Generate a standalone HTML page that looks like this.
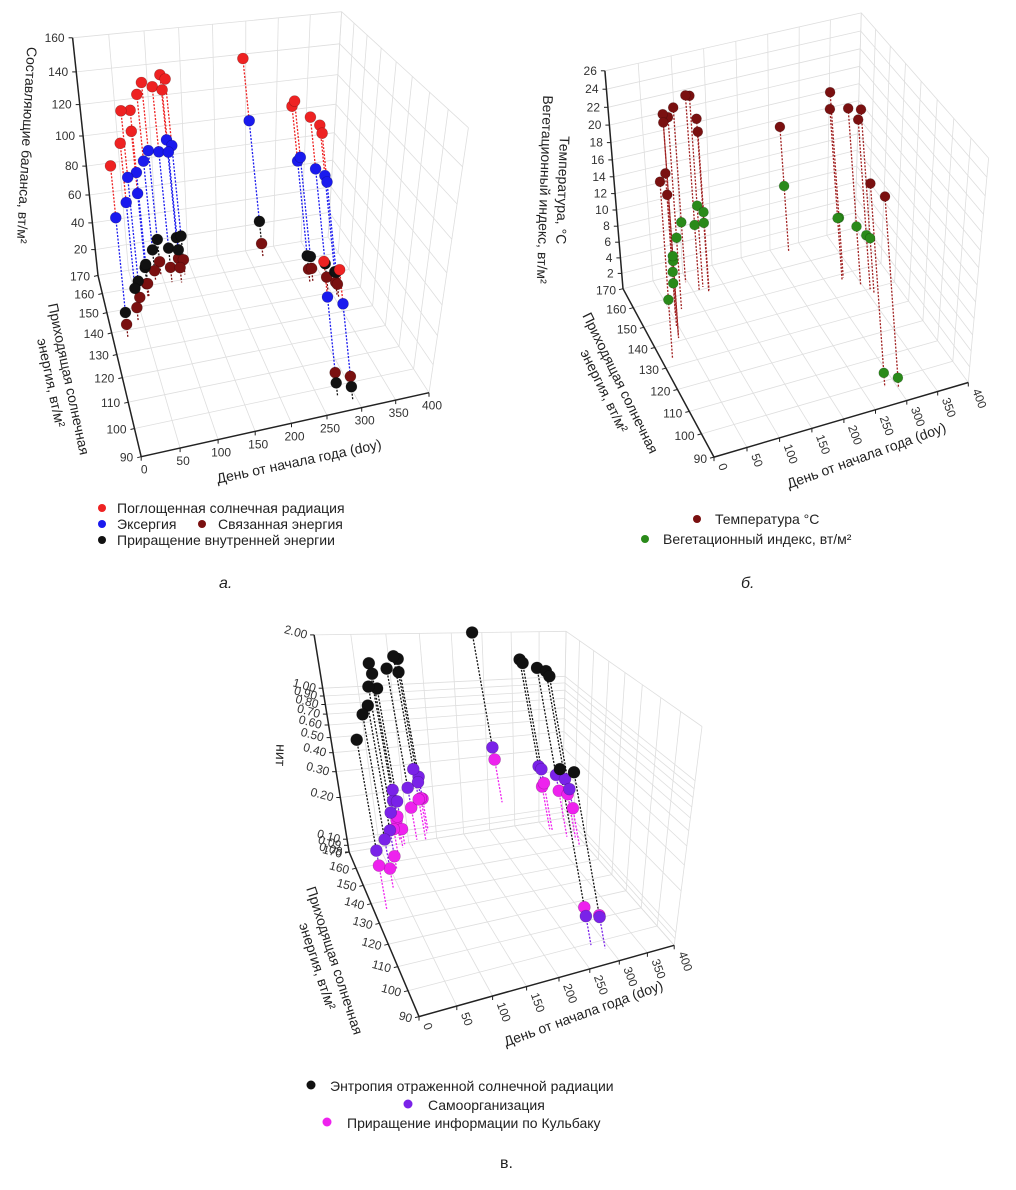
<!DOCTYPE html>
<html><head><meta charset="utf-8">
<style>
html,body{margin:0;padding:0;background:#fff;}
svg{display:block;font-family:"Liberation Sans",sans-serif;}
.tk{font-size:12px;fill:#333;}
.ttl{font-size:14px;fill:#222;}
.lg{font-size:14px;fill:#222;}
</style></head>
<body>
<svg id="root" width="1016" height="1190" viewBox="0 0 1016 1190">
<rect width="1016" height="1190" fill="#fff"/>
<g id="pa"></g>
<g id="pb"></g>
<g id="pc"></g>

<text class="ttl" transform="translate(22,145) rotate(93)" text-anchor="middle" font-size="15">Составляющие баланса, вт/м²</text>
<text class="ttl" transform="translate(64,380) rotate(78)" text-anchor="middle" font-size="15"><tspan x="0" y="0">Приходящая солнечная</tspan><tspan x="0" y="18">энергия, вт/м²</tspan></text>
<text class="ttl" transform="translate(300,466) rotate(-12)" text-anchor="middle" font-size="15">День от начала года (doy)</text>

<text class="ttl" transform="translate(558,190) rotate(92)" text-anchor="middle" font-size="15"><tspan x="0" y="0">Температура, °С</tspan><tspan x="0" y="18">Вегетационный индекс, вт/м²</tspan></text>
<text class="ttl" transform="translate(616,385) rotate(64)" text-anchor="middle" font-size="15"><tspan x="0" y="0">Приходящая солнечная</tspan><tspan x="0" y="18">энергия, вт/м²</tspan></text>
<text class="ttl" transform="translate(868,460) rotate(-20)" text-anchor="middle" font-size="15">День от начала года (doy)</text>

<text class="ttl" transform="translate(276,755) rotate(92)" text-anchor="middle" font-size="15">нит</text>
<text class="ttl" transform="translate(330,962) rotate(72)" text-anchor="middle" font-size="15"><tspan x="0" y="0">Приходящая солнечная</tspan><tspan x="0" y="18">энергия, вт/м²</tspan></text>
<text class="ttl" transform="translate(585,1018) rotate(-20)" text-anchor="middle" font-size="15">День от начала года (doy)</text>

<g>
<circle cx="102" cy="508" r="4" fill="#ee2222"/><text class="lg" x="117" y="513">Поглощенная солнечная радиация</text>
<circle cx="102" cy="524" r="4" fill="#1a1aee"/><text class="lg" x="117" y="529">Эксергия</text>
<circle cx="202" cy="524" r="4" fill="#7a1010"/><text class="lg" x="218" y="529">Связанная энергия</text>
<circle cx="102" cy="540" r="4" fill="#111"/><text class="lg" x="117" y="545">Приращение внутренней энергии</text>
</g>
<text x="219" y="588" font-size="16" font-style="italic" fill="#222">а.</text>
<g>
<circle cx="697" cy="519" r="4" fill="#7a1010"/><text class="lg" x="715" y="524">Температура °С</text>
<circle cx="645" cy="539" r="4" fill="#2a8a1a"/><text class="lg" x="663" y="544">Вегетационный индекс, вт/м²</text>
</g>
<text x="741" y="588" font-size="16" font-style="italic" fill="#222">б.</text>
<g>
<circle cx="311" cy="1085" r="4.5" fill="#111"/><text class="lg" x="330" y="1091" font-size="16">Энтропия отраженной солнечной радиации</text>
<circle cx="408" cy="1104" r="4.5" fill="#7a22e8"/><text class="lg" x="428" y="1110" font-size="16">Самоорганизация</text>
<circle cx="327" cy="1122" r="4.5" fill="#ee22ee"/><text class="lg" x="347" y="1128" font-size="16">Приращение информации по Кульбаку</text>
</g>
<text x="500" y="1168" font-size="16" fill="#222">в.</text>
</svg>

<script>
// ---- Panel a data ----
const aDoy = [20.5,39.7,60.6,47,61.9,76,85,97.4,111,110,117,226.6,280.6,284.9,302,312.5,314,280,299];
const aEnergy = [141,147,156,151,156,162,164,160,163,159,162,162,147,147,142,139,138,97,94];
const aAbsorbed = [116,120,112,135,126,126,130,132,134,130,132,134,119,122,117,115,111,91,88];
const aExergy = [81,80,70,90,84,81,84,88,90,88,87,92,82,84,82,81,78,67,65];
const aInternal = [17,22,20,20,22,21,24,23,24,22,26,24,18,17,18,16,17,9,9];
const aBound = [9,9,9,9,9,7,9,10,10,10,10,9,9,9,9,9,9,16,16];
const aValueTicks = [20,40,60,80,100,120,140,160];
const aEnergyTicks = [90,100,110,120,130,140,150,160,170];
const aDoyTicks = [0,50,100,150,200,250,300,350,400];

// ---- Panel b data ----
const bDoy = [16.9,51.8,44.7,40.4,39,63.3,87.5,100,107.5,111.4,113.5,247.5,299,302.6,321,330.6,333,282,300];
const bEnergy = [135,152,147,143,142,153,163,158,159,156,157,162,144,145,140,137,135,97,95];
const bTemp = [21.5,17.1,16,27,26.3,23.4,21.3,23.8,23.3,21.2,19.3,15.2,20.9,22.6,21.5,20.7,22.4,24.8,23.3];
const bVeg = [7.1,3.7,6.6,9.1,10,8.7,7.3,8,9.9,8.5,9.5,8,7.6,7.3,7.1,6.6,6.7,1.7,1.2];
const bValueTicks = [2,4,6,8,10,12,14,16,18,20,22,24,26];
const bEnergyTicks = [90,100,110,120,130,140,150,160,170];
const bDoyTicks = [0,50,100,150,200,250,300,350,400];

// ---- Panel c data ----
const cDoy = [15.2,36.4,51.4,62.2,76.5,72,72.2,96.2,109,114.2,117.3,237.4,292.6,289.8,310,321,322.6,284.4,302.6];
const cEnergy = [138,145,151,157,159,158,161,159,158,160,161,161,144,145,140,138,135,98,95];
const cEntropy = [1.38,1.46,1.25,1.29,1.09,1.48,1.56,1.41,1.72,1.19,1.41,1.38,1.34,1.38,1.36,1.34,1.38,1.53,1.53];
const cSelfOrg = [0.215,0.179,0.154,0.156,0.164,0.211,0.156,0.191,0.259,0.188,0.195,0.201,0.226,0.23,0.226,0.219,0.208,0.13,0.135];
const cKullback = [0.167,0.11,0.1,0.118,0.103,0.135,0.112,0.137,0.156,0.144,0.135,0.164,0.179,0.164,0.173,0.17,0.151,0.151,0.139];
const cValueTicks = [0.08,0.09,0.1,0.2,0.3,0.4,0.5,0.6,0.7,0.8,0.9,1,2];
const cValueLabels = ["0.08","0.09","0.10","0.20","0.30","0.40","0.50","0.60","0.70","0.80","0.90","1.00","2.00"];
const cEnergyTicks = [90,100,110,120,130,140,150,160,170];
const cDoyTicks = [0,50,100,150,200,250,300,350,400];

const NS = "http://www.w3.org/2000/svg";
function mk(parent, tag, attrs){
  const el = document.createElementNS(NS, tag);
  for (const k in attrs) el.setAttribute(k, attrs[k]);
  parent.appendChild(el);
  return el;
}

// perspective camera fit (DLT) from box-corner correspondences
function fitCam(corr){
  const A=[], b=[];
  corr.forEach(c=>{
    const [X,Y,Z,u,v]=c;
    A.push([X,Y,Z,1,0,0,0,0,-u*X,-u*Y,-u*Z]); b.push(u);
    A.push([0,0,0,0,X,Y,Z,1,-v*X,-v*Y,-v*Z]); b.push(v);
  });
  const n=11, M=[];
  for(let i=0;i<n;i++){ M.push(new Array(n+1).fill(0)); }
  for(let r=0;r<A.length;r++) for(let i=0;i<n;i++){
    for(let j=0;j<n;j++) M[i][j]+=A[r][i]*A[r][j];
    M[i][n]+=A[r][i]*b[r];
  }
  for(let i=0;i<n;i++){
    let p=i; for(let k=i+1;k<n;k++) if(Math.abs(M[k][i])>Math.abs(M[p][i])) p=k;
    [M[i],M[p]]=[M[p],M[i]];
    for(let k=0;k<n;k++){ if(k===i) continue; const f=M[k][i]/M[i][i]; for(let j=i;j<=n;j++) M[k][j]-=f*M[i][j]; }
  }
  const x=M.map((row,i)=>row[n]/row[i]);
  return (X,Y,Z)=>{ const w=x[8]*X+x[9]*Y+x[10]*Z+1;
    return [(x[0]*X+x[1]*Y+x[2]*Z+x[3])/w,(x[4]*X+x[5]*Y+x[6]*Z+x[7])/w]; };
}

function drawPanel(g, cfg){
  const vmin = cfg.vmin, vmax = cfg.vmax;
  const tmax = cfg.vt(vmax);
  // marks: affine mapping
  function P(d, e, v){
    const t = cfg.vt(v);
    return [cfg.O[0] + d*cfg.D[0] + (e-90)*cfg.E[0] + t*cfg.V[0],
            cfg.O[1] + d*cfg.D[1] + (e-90)*cfg.E[1] + t*cfg.V[1]];
  }
  // box/grid: perspective mapping
  const cam = fitCam(cfg.corners.map(c=>[c[0]/400,(c[1]-90)/80,cfg.vt(c[2])/tmax,c[3],c[4]]));
  function Q(d,e,v){ return cam(d/400,(e-90)/80,cfg.vt(v)/tmax); }

  const gridStyle = {stroke:"#dedede","stroke-width":0.8,fill:"none"};
  function line(a,b,st,name){
    const l = mk(g,"line",Object.assign({x1:a[0].toFixed(1),y1:a[1].toFixed(1),x2:b[0].toFixed(1),y2:b[1].toFixed(1)},st));
    
    
    return l;
  }
  const vgrid = cfg.valueTicks.filter(v=>v<vmax).concat([vmax]);
  cfg.doyTicks.forEach(d=>line(Q(d,90,vmin),Q(d,170,vmin),gridStyle,'floor-grid-line'));
  cfg.energyTicks.forEach(e=>line(Q(0,e,vmin),Q(400,e,vmin),gridStyle,'floor-grid-line'));
  cfg.doyTicks.forEach(d=>line(Q(d,170,vmin),Q(d,170,vmax),gridStyle,'back-wall-grid-line'));
  vgrid.forEach(v=>line(Q(0,170,v),Q(400,170,v),gridStyle,'back-wall-grid-line'));
  cfg.energyTicks.forEach(e=>line(Q(400,e,vmin),Q(400,e,vmax),gridStyle,'side-wall-grid-line'));
  vgrid.forEach(v=>line(Q(400,90,v),Q(400,170,v),gridStyle,'side-wall-grid-line'));

  const ax = {stroke:"#222","stroke-width":1.5};
  line(Q(0,170,vmin),Q(0,170,vmax),ax,'z-axis-line');
  line(Q(0,90,vmin),Q(0,170,vmin),ax,'y-axis-line');
  line(Q(0,90,vmin),Q(400,90,vmin),ax,'x-axis-line');

  function txt(x,y,s,anchor,rot,name){
    const t = mk(g,"text",{x:0,y:0,"class":"tk","text-anchor":anchor,
      transform:"translate("+x.toFixed(1)+","+y.toFixed(1)+")"+(rot?" rotate("+rot+")":"")});
    t.textContent = s;
    
    
  }
  cfg.valueTicks.forEach((v,i)=>{
    const p = Q(0,170,v);
    line(p,[p[0]-4,p[1]],{stroke:"#222","stroke-width":1},'z-tick');
    txt(p[0]+cfg.vOff[0], p[1]+cfg.vOff[1], cfg.valueLabels? cfg.valueLabels[i] : String(v), "end", cfg.vRot, 'z-tick-label');
  });
  cfg.energyTicks.forEach(e=>{
    const p = Q(0,e,vmin);
    line(p,[p[0]-4,p[1]+1],{stroke:"#222","stroke-width":1},'y-tick');
    txt(p[0]+cfg.eOff[0], p[1]+cfg.eOff[1], String(e), "end", cfg.vRot, 'y-tick-label');
  });
  cfg.doyTicks.forEach(d=>{
    const p = Q(d,90,vmin);
    line(p,[p[0],p[1]+4],{stroke:"#222","stroke-width":1},'x-tick');
    txt(p[0]+cfg.dOff[0], p[1]+cfg.dOff[1], String(d), cfg.dRot?"start":"middle", cfg.dRot, 'x-tick-label');
  });

  const n = cfg.doy.length;
  const order = [...Array(n).keys()].sort((i,j)=>cfg.energy[j]-cfg.energy[i]);
  const markers = [];
  order.forEach(i=>{
    const pts = cfg.series.map(s=>({v:s.values[i], c:s.color, lc:s.lineColor||s.color, name:s.name}));
    pts.sort((a,b)=>b.v-a.v);
    for (let k=0;k<pts.length;k++){
      const a = P(cfg.doy[i],cfg.energy[i],pts[k].v);
      const b = k<pts.length-1 ? P(cfg.doy[i],cfg.energy[i],pts[k+1].v) : P(cfg.doy[i],cfg.energy[i],vmin);
      line(a,b,{stroke:pts[k].lc,"stroke-width":1.3,"stroke-dasharray":"2,1.5"},'drop-line');
    }
    pts.forEach(p=>markers.push({p:P(cfg.doy[i],cfg.energy[i],p.v), c:p.c, name:p.name}));
  });
  markers.forEach(m=>{
    const c = mk(g,"circle",{cx:m.p[0].toFixed(1),cy:m.p[1].toFixed(1),r:cfg.r,fill:m.c,stroke:"rgba(0,0,0,0.25)","stroke-width":0.6});
    
    
  });
}

drawPanel(document.getElementById('pa'), {
  O:[142,457], D:[0.7125,-0.16], E:[-0.5625,-2.275], V:[-0.15,-1.481],
  vt:v=>v, vmin:0, vmax:160,
  corners:[[0,90,0,142,457],[400,90,0,427,393],[0,170,0,97,275],[0,170,160,73,38],
           [400,90,160,470,127],[400,170,160,340,12],[400,170,0,330,237]],
  valueTicks:aValueTicks, energyTicks:aEnergyTicks, doyTicks:aDoyTicks,
  vOff:[-8,4], eOff:[-8,5], dOff:[3,17], vRot:0, dRot:0, r:5.5,
  doy:aDoy, energy:aEnergy,
  series:[
    {name:'absorbed-radiation-point', values:aAbsorbed, color:'#ee2222'},
    {name:'exergy-point', values:aExergy, color:'#1a1aee'},
    {name:'internal-energy-point', values:aInternal, color:'#111111'},
    {name:'bound-energy-point', values:aBound, color:'#7a1010'}
  ]
});

drawPanel(document.getElementById('pb'), {
  O:[713,460], D:[0.6375,-0.205], E:[-1.14,-2.19], V:[-0.58,-8.2],
  vt:v=>v, vmin:0, vmax:26,
  corners:[[0,90,0,713,460],[400,90,0,968,378],[0,170,0,622,285],[0,170,26,607,72],
           [400,90,26,990,160],[400,170,26,858,10],[400,170,0,857,233]],
  valueTicks:bValueTicks, energyTicks:bEnergyTicks, doyTicks:bDoyTicks,
  vOff:[-8,4], eOff:[-7,6], dOff:[4,8], vRot:0, dRot:70, r:5,
  doy:bDoy, energy:bEnergy,
  series:[
    {name:'temperature-point', values:bTemp, color:'#7a1010', lineColor:'#a02020'},
    {name:'vegetation-index-point', values:bVeg, color:'#2a8a1a', lineColor:'#a02020'}
  ]
});

drawPanel(document.getElementById('pc'), {
  O:[423,1030], D:[0.6175,-0.23], E:[-0.95,-2.4375], V:[-24.3,-137.3],
  vt:v=>Math.log10(v/0.08), vmin:0.08, vmax:2.0,
  corners:[[0,90,0.08,423,1030],[400,90,0.08,671,938],[0,170,0.08,347,835],[0,170,2.0,313,643],
           [400,90,2.0,702,722],[400,170,2.0,567,628],[400,170,0.08,564,830]],
  valueTicks:cValueTicks, valueLabels:cValueLabels, energyTicks:cEnergyTicks, doyTicks:cDoyTicks,
  vOff:[-8,4], eOff:[-8,6], dOff:[4,8], vRot:15, dRot:70, r:6,
  doy:cDoy, energy:cEnergy,
  series:[
    {name:'entropy-point', values:cEntropy, color:'#111111'},
    {name:'self-organization-point', values:cSelfOrg, color:'#7a22e8'},
    {name:'kullback-information-point', values:cKullback, color:'#ee22ee'}
  ]
});
</script>
</body></html>
